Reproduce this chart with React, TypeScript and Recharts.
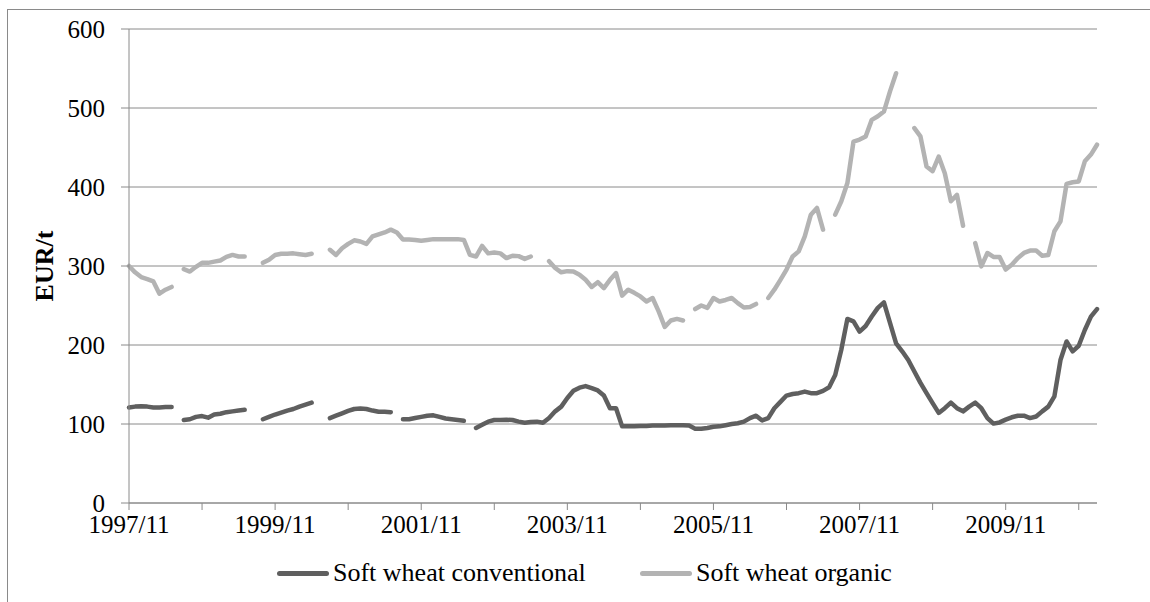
import { CartesianGrid, Legend, Line, LineChart, XAxis, YAxis } from "recharts";

const FONT = '"Liberation Serif", "Times New Roman", serif';

// monthly categories, 1997/11 .. 2011/02
const START_YEAR = 1997;
const START_MONTH = 11;
const MONTH_COUNT = 160;

const months: string[] = Array.from({ length: MONTH_COUNT }, (_, i) => {
  const m = START_MONTH - 1 + i;
  const y = START_YEAR + Math.floor(m / 12);
  return `${y}/${String((m % 12) + 1).padStart(2, "0")}`;
});

const tickMonths = [
  "1997/11", "1998/11", "1999/11", "2000/11", "2001/11", "2002/11", "2003/11",
  "2004/11", "2005/11", "2006/11", "2007/11", "2008/11", "2009/11", "2010/11",
];
const labelledTicks = ["1997/11", "1999/11", "2001/11", "2003/11", "2005/11", "2007/11", "2009/11"];
const yTicks = [0, 100, 200, 300, 400, 500, 600];

// EUR/t, null = no quote that month
const conventional: (number | null)[] = [
  121, 122, 122.5, 122, 121, 121, 121.5, 121.5,
  null,
  105, 106, 109, 110, 108, 112, 113, 115, 116, 117, 118,
  null, null,
  106, 109, 112, 114.5, 117, 119, 122, 124.5, 127,
  null, null,
  107.5, 110.5, 113.5, 116.5, 119, 119.5, 119, 117, 115.5, 115.5, 115,
  null,
  106, 106, 107.5, 109, 110.5, 111, 109, 107, 106, 105, 104,
  null,
  95, 99, 103, 105, 105, 105.5, 105, 103, 101.5, 102.5, 103, 101.5, 107.5, 116, 122, 133,
  142, 146, 148, 145.5, 142.5, 136, 120, 120, 97, 97, 97, 97.5, 97.5, 98, 98, 98,
  98.5, 98.5, 98.5, 98, 94, 94, 95, 96.5, 97, 98.5, 100, 101, 103, 107.5, 110.5, 104.5,
  107.5, 120, 128, 136, 138, 139, 141, 139, 139, 142, 146.5, 162, 194, 233, 230, 217,
  224, 236, 247, 254, 228, 202, 192, 181, 166.5, 152, 139, 126.5, 114, 120, 127, 120,
  116, 122, 127, 120, 107.5, 100.5, 102, 105.5, 108.5, 110.5, 110.5, 107.5, 109.5, 116, 122, 135,
  181, 204.5, 192, 199, 219, 236, 245.5,
];

const organic: (number | null)[] = [
  300, 292, 286, 283.5, 280.5, 265, 270, 273.5,
  null,
  296, 293, 299, 304, 304, 305.5, 307, 311.5, 314, 312, 312,
  null, null,
  304, 308, 314, 315.5, 315.5, 316, 315, 314, 315.5,
  null, null,
  320.5, 314, 322.5, 328, 332.5, 331, 328, 337.5, 340, 342.5, 346, 342.5, 333.5, 333.5, 333, 332,
  333, 334, 334, 334, 334, 334, 333, 314, 312, 325.5, 316, 317, 316, 310, 313, 312.5,
  309, 312,
  null, null,
  306, 297.5, 292, 293.5, 293, 289, 282.5, 273.5, 279.5, 272, 282.5, 291, 262.5, 270, 266, 261.5,
  255, 259.5, 242.5, 223, 231, 233, 231,
  null,
  245.5, 250, 247, 259.5, 255, 257, 259.5, 253, 247.5, 248, 252,
  null,
  259.5, 270, 282.5, 295.5, 312, 318.5, 337.5, 365, 373.5, 346,
  null,
  365, 382, 405, 457.5, 460, 464, 485, 489.5, 495.5, 521, 544,
  null, null,
  474.5, 464, 426, 420, 438.5, 417.5, 382, 390, 351,
  null,
  329, 299.5, 316.5, 311.5, 311.5, 295.5, 301.5, 310, 316.5, 319.5, 319.5, 313, 314, 344, 356.5, 404,
  406, 407, 432.5, 441, 453.5,
];

const series = [
  { key: "conventional", name: "Soft wheat conventional", color: "#5f5f5f", left: 277 },
  { key: "organic", name: "Soft wheat organic", color: "#b3b3b3", left: 640 },
];

const data = months.map((month, i) => ({
  month,
  conventional: conventional[i],
  organic: organic[i],
}));

const AXIS = "#8a8a8a";

function YTitle() {
  return (
    <text
      x={44}
      y={266}
      transform="rotate(-90 44 266)"
      textAnchor="middle"
      dominantBaseline="central"
      fontWeight="bold"
      fontSize={26}
      fill="#000"
      fontFamily={FONT}
    >
      EUR/t
    </text>
  );
}

function LegendContent() {
  return (
    <div style={{ position: "relative", width: 1150, height: 34, fontSize: 26, fontFamily: FONT, color: "#000" }}>
      {series.map((s) => (
        <div
          key={s.key}
          style={{ position: "absolute", left: s.left, top: 0, height: 34, display: "flex", alignItems: "center", whiteSpace: "nowrap" }}
        >
          <span style={{ display: "inline-block", width: 52, height: 5, borderRadius: 3, background: s.color, marginRight: 4 }} />
          <span>{s.name}</span>
        </div>
      ))}
    </div>
  );
}

export default function App() {
  return (
    <div style={{ position: "absolute", left: 0, top: 0, width: 1150, height: 602, background: "#fff", overflow: "hidden" }}>
      <div
        style={{
          position: "absolute",
          left: 7,
          top: 9,
          width: 1200,
          height: 700,
          borderTop: `1px solid ${AXIS}`,
          borderLeft: `1px solid ${AXIS}`,
        }}
      />
      <LineChart
        width={1150}
        height={602}
        data={data}
        margin={{ top: 29, right: 53, bottom: 59, left: 0 }}
        style={{ fontFamily: FONT }}
      >
        <CartesianGrid vertical={false} stroke={AXIS} strokeWidth={1} />
        <XAxis
          dataKey="month"
          ticks={tickMonths}
          interval={0}
          tickFormatter={(v: string) => (labelledTicks.includes(v) ? v : "")}
          height={40}
          tickSize={7}
          tickMargin={5}
          axisLine={{ stroke: AXIS }}
          tickLine={{ stroke: AXIS }}
          tick={{ fill: "#000", fontSize: 25 }}
        />
        <YAxis
          domain={[0, 600]}
          ticks={yTicks}
          width={129}
          tickSize={8}
          tickMargin={16}
          axisLine={{ stroke: AXIS }}
          tickLine={{ stroke: AXIS }}
          tick={{ fill: "#000", fontSize: 25 }}
          label={<YTitle />}
        />
        <Legend
          verticalAlign="middle"
          align="center"
          layout="horizontal"
          content={<LegendContent />}
          wrapperStyle={{ left: 0, top: 556, width: 1150 }}
        />
        {series.map((s) => (
          <Line
            key={s.key}
            type="linear"
            dataKey={s.key}
            name={s.name}
            stroke={s.color}
            strokeWidth={4.5}
            strokeLinecap="round"
            strokeLinejoin="round"
            dot={false}
            activeDot={false}
            connectNulls={false}
            isAnimationActive={false}
          />
        ))}
      </LineChart>
    </div>
  );
}
